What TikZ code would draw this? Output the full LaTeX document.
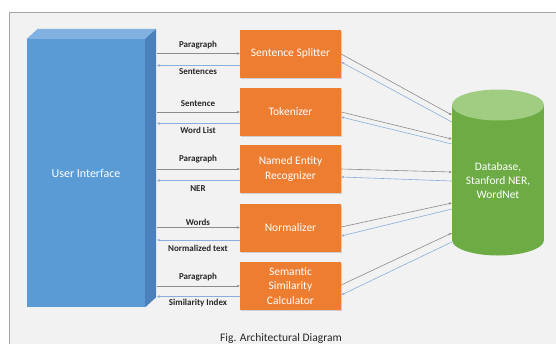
\documentclass[tikz,border=0pt]{standalone}
\usepackage{fontspec}
\setmainfont{Carlito}
\usetikzlibrary{arrows.meta,calc,shadows}
\definecolor{orng}{HTML}{ED7D31}
\definecolor{uifront}{HTML}{5B9BD5}
\definecolor{uitop}{HTML}{80B1E0}
\definecolor{uiside}{HTML}{4A80BC}
\definecolor{dbgreen}{HTML}{6DAB44}
\definecolor{dbtop}{HTML}{A0CD82}
\definecolor{bggray}{HTML}{F2F2F2}
\definecolor{framegray}{HTML}{A6A6A6}
\definecolor{fwdgray}{HTML}{8C8C8C}
\definecolor{bwdblue}{HTML}{8AAEDB}
\begin{document}
\begin{tikzpicture}[x=1pt,y=-1pt,
  proc/.style={fill=orng, text=white, minimum width=101pt, minimum height=48pt,
    inner sep=0pt, align=center, font=\fontsize{11.5}{14.5}\selectfont,
    drop shadow={shadow xshift=1.2pt, shadow yshift=-1.2pt, opacity=0.3}},
  lbl/.style={font=\bfseries\fontsize{9}{10}\selectfont, text=black!85, inner sep=1pt},
  fwd/.style={draw=fwdgray, line width=0.6pt, -{Stealth[length=3pt,width=2.6pt]}},
  bwd/.style={draw=bwdblue, line width=0.6pt, -{Stealth[length=3pt,width=2.6pt]}},
  whitetext/.style={text=white, font=\fontsize{11.5}{14}\selectfont, align=center}]
\useasboundingbox (0,0) rectangle (556,343);
\begin{scope}
  \clip (0,0) rectangle (556,343);
  \fill[white] (0,0) rectangle (556,343);
  \draw[framegray, fill=bggray, line width=0.6pt] (9,12) rectangle (580,380);
\end{scope}

% user interface cuboid
\node[fill=uifront, whitetext, font=\fontsize{12}{14}\selectfont, minimum width=118pt, minimum height=268pt, inner sep=0pt] (ui) at (86,173) {User Interface};
\fill[uitop] (ui.north west) -- ++(11,-10) -- ($(ui.north east)+(11,-10)$) -- (ui.north east) -- cycle;
\fill[uiside] (ui.north east) -- ++(11,-10) -- ($(ui.south east)+(11,-10)$) -- (ui.south east) -- cycle;
\coordinate (uiR) at (157,173);

% process boxes
\node[proc] (b1) at (290.5,53.5) {Sentence Splitter};
\node[proc] (b2) at (290.5,112) {Tokenizer};
\node[proc] (b3) at (290.5,169) {Named Entity\\Recognizer};
\node[proc] (b4) at (290.5,227.5) {Normalizer};
\node[proc] (b5) at (290.5,286) {Semantic\\Similarity\\Calculator};

% database cylinder
\fill[dbgreen] (452,105) rectangle (544,240);
\fill[dbgreen] (498,240) ellipse (46 and 15.5);
\fill[dbtop] (498,105) ellipse (46 and 15.5);
\node[whitetext, minimum width=92pt, inner sep=0pt] (db) at (498,181) {Database,\\Stanford NER,\\WordNet};

% left connectors
\foreach \b/\d in {b1/12, b2/11.5, b3/11.5, b4/12.5, b5/10.5} {
  \path ($(\b.west)+(0,\d)$) coordinate (r\b);
  \draw[fwd] (uiR |- \b.west) -- (\b.west);
  \draw[bwd] (r\b) -- (uiR |- r\b);
}

% labels
\node[lbl] (l1a) at (198,45) {Paragraph};
\node[lbl] (l1b) at (198,72) {Sentences};
\node[lbl] (l2a) at (198,104) {Sentence};
\node[lbl] (l2b) at (198,130) {Word List};
\node[lbl] (l3a) at (198,159) {Paragraph};
\node[lbl] (l3b) at (198,189) {NER};
\node[lbl] (l4a) at (198,222) {Words};
\node[lbl] (l4b) at (198,248) {Normalized text};
\node[lbl] (l5a) at (198,277) {Paragraph};
\node[lbl] (l5b) at (198,303) {Similarity Index};

% right connectors
\draw[fwd] ($(b1.east)+(0,0.5)$) -- ($(db.west)+(0,-66)$);
\draw[bwd] ($(db.west)+(0,-59)$) -- ($(b1.east)+(0,8.5)$);
\draw[fwd] ($(b2.east)+(0,0)$) -- ($(db.west)+(0,-42)$);
\draw[bwd] ($(db.west)+(0,-37)$) -- ($(b2.east)+(0,5)$);
\draw[fwd] ($(b3.east)+(0,0)$) -- ($(db.west)+(0,-9)$);
\draw[bwd] ($(db.west)+(0,0)$) -- ($(b3.east)+(0,8)$);
\draw[fwd] ($(b4.east)+(0,-0.5)$) -- ($(db.west)+(0,22)$);
\draw[bwd] ($(db.west)+(0,28)$) -- ($(b4.east)+(0,8.5)$);
\draw[fwd] ($(b5.east)+(0,-1)$) -- ($(db.west)+(0,52)$);
\draw[bwd] ($(db.west)+(0,61)$) -- ($(b5.east)+(0,9)$);

% caption
\node[font=\fontsize{11.5}{13}\selectfont, text=black!85] (cap) at (281,338) {Fig. Architectural Diagram};
\end{tikzpicture}
\end{document}
